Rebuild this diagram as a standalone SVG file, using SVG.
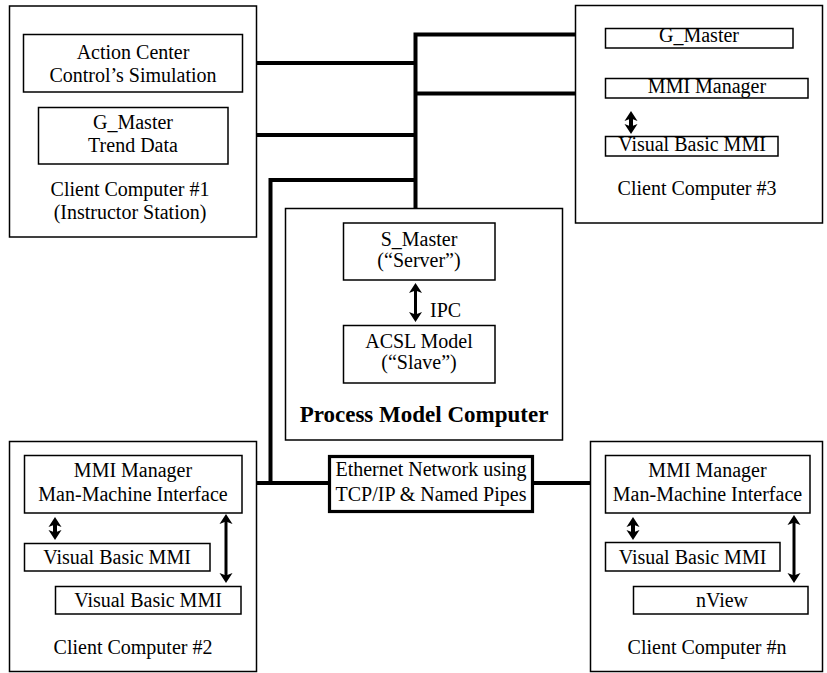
<svg xmlns="http://www.w3.org/2000/svg" width="827" height="673" viewBox="0 0 827 673">
<style>
.box{fill:#fff;stroke:#000;stroke-width:1.5}
.net{fill:#fff;stroke:#000;stroke-width:3.2}
.t{font-family:"Liberation Serif","Times New Roman",serif;font-size:20px;fill:#000;text-anchor:middle}
.b{font-weight:bold;font-size:23px}
.w{fill:none;stroke:#000;stroke-width:4}
.a{fill:none;stroke:#000;stroke-width:3}
.as{fill:none;stroke:#000;stroke-width:4}
</style>
<defs>
<marker id="ah" markerUnits="userSpaceOnUse" viewBox="-1 -8 12 16" refX="3" refY="0" markerWidth="12" markerHeight="16" orient="auto-start-reverse">
<path d="M0,-6.5 L10,0 L0,6.5 L2.5,0 Z" fill="#000"/>
</marker>
</defs>
<rect width="827" height="673" fill="#fff"/>
<g id="connectors">
<path class="w" d="M242,63 H415.5 M228,135 H415.5 M415.5,32.5 V223 M413.5,34.5 H605 M415.5,93.5 H605 M270.5,178 V483 M268.5,180 H415.5 M242,483 H330 M532,483 H605"/>
</g>
<g id="client1">
<rect class="box" x="9.5" y="6" width="247" height="231"/>
<g id="action-center"><rect class="box" x="23.5" y="34.5" width="219" height="57.5"/>
<text class="t" x="133" y="59">Action Center</text><text class="t" x="133" y="82">Control’s Simulation</text></g>
<g id="gmaster-trend"><rect class="box" x="38.5" y="107.5" width="189.5" height="56.5"/>
<text class="t" x="133" y="129">G_Master</text><text class="t" x="133" y="152">Trend Data</text></g>
<text class="t" x="130" y="196" font-size="20.5">Client Computer #1</text>
<text class="t" x="130" y="219" font-size="20.5">(Instructor Station)</text>
</g>
<g id="client3">
<rect class="box" x="575.5" y="5.5" width="247" height="217.5"/>
<g id="gmaster3"><rect class="box" x="605.5" y="28.5" width="187.5" height="19.5"/><text class="t" x="699" y="42">G_Master</text></g>
<g id="mmi3"><rect class="box" x="605.5" y="78.5" width="202.5" height="19.5"/><text class="t" x="707" y="93">MMI Manager</text></g>
<g id="vb3"><rect class="box" x="605.5" y="136.5" width="172.5" height="19.5"/><text class="t" x="692" y="151">Visual Basic MMI</text></g>
<text class="t" x="697" y="195">Client Computer #3</text>
</g>
<g id="process">
<rect class="box" x="285.5" y="208.5" width="277" height="231.5"/>
<g id="smaster"><rect class="box" x="343.5" y="223" width="151.5" height="57"/>
<text class="t" x="419" y="246">S_Master</text><text class="t" x="419" y="267">(“Server”)</text></g>
<g id="acsl"><rect class="box" x="343.5" y="325.5" width="151.5" height="57.5"/>
<text class="t" x="419" y="348">ACSL Model</text><text class="t" x="419" y="369">(“Slave”)</text></g>
<text class="t" x="430" y="317" style="text-anchor:start">IPC</text>
<text class="t b" x="424" y="422">Process Model Computer</text>
</g>
<g id="ethernet">
<rect class="net" x="329.5" y="456.5" width="203" height="55"/>
<text class="t" x="431" y="476">Ethernet Network using</text>
<text class="t" x="431" y="501">TCP/IP &amp; Named Pipes</text>
</g>
<g id="client2">
<rect class="box" x="9.5" y="441.5" width="247" height="230"/>
<g id="mmi2"><rect class="box" x="24.5" y="455.5" width="217.5" height="57.5"/>
<text class="t" x="133" y="477">MMI Manager</text><text class="t" x="133" y="501">Man-Machine Interface</text></g>
<g id="vb2a"><rect class="box" x="24.5" y="543.5" width="185.5" height="27.5"/><text class="t" x="117" y="564">Visual Basic MMI</text></g>
<g id="vb2b"><rect class="box" x="55.5" y="586.5" width="185.5" height="27.5"/><text class="t" x="148" y="607">Visual Basic MMI</text></g>
<text class="t" x="133" y="654">Client Computer #2</text>
</g>
<g id="clientn">
<rect class="box" x="590.5" y="441.5" width="232" height="230"/>
<g id="mmin"><rect class="box" x="605.5" y="455.5" width="204.5" height="57.5"/>
<text class="t" x="707.5" y="477">MMI Manager</text><text class="t" x="707.5" y="501">Man-Machine Interface</text></g>
<g id="vbn"><rect class="box" x="605.5" y="542.5" width="174.5" height="28.5"/><text class="t" x="692.5" y="564">Visual Basic MMI</text></g>
<g id="nview"><rect class="box" x="633.5" y="586.5" width="174.5" height="27.5"/><text class="t" x="722" y="607">nView</text></g>
<text class="t" x="707" y="654">Client Computer #n</text>
</g>
<g id="arrows">
<path class="a" d="M415.5,290 V315" marker-start="url(#ah)" marker-end="url(#ah)"/>
<path class="a" d="M226,521 V576" marker-start="url(#ah)" marker-end="url(#ah)"/>
<path class="a" d="M794,522 V576" marker-start="url(#ah)" marker-end="url(#ah)"/>
<path class="as" d="M631,118 V127" marker-start="url(#ah)" marker-end="url(#ah)"/>
<path class="as" d="M55,524 V533" marker-start="url(#ah)" marker-end="url(#ah)"/>
<path class="as" d="M633,524 V533" marker-start="url(#ah)" marker-end="url(#ah)"/>
</g>
</svg>
